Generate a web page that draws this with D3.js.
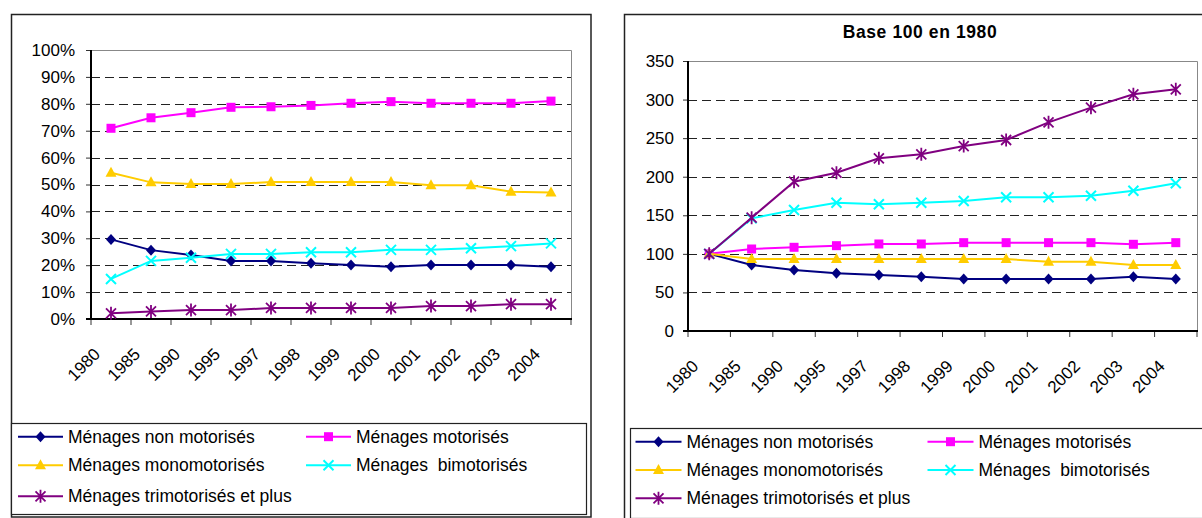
<!DOCTYPE html>
<html>
<head>
<meta charset="utf-8">
<script src="https://d3js.org/d3.v7.min.js"></script>
<style>
  body { margin: 0; background: #fff; }
  text { font-family: "Liberation Sans", Arial, sans-serif; fill: #000; }
</style>
</head>
<body>
<div id="chart"></div>
<script>
    // categories (years)
    var years = ["1980", "1985", "1990", "1995", "1997", "1998", "1999", "2000", "2001", "2002", "2003", "2004"];

    // left chart : share of households (%)
    var pctNonMotorises = [29.6, 25.6, 23.8, 21.6, 21.6, 20.7, 20.1, 19.4, 20.1, 20.1, 20.1, 19.4];
    var pctMotorises = [70.9, 74.8, 76.7, 78.7, 78.9, 79.4, 80.2, 80.8, 80.2, 80.2, 80.2, 81.0];
    var pctMonomotorises = [54.4, 50.8, 50.2, 50.2, 50.9, 50.9, 50.9, 50.9, 49.7, 49.7, 47.3, 47.0];
    var pctBimotorises = [14.9, 21.6, 22.8, 24.2, 24.2, 24.8, 24.8, 25.7, 25.7, 26.3, 27.1, 28.1];
    var pctTrimotorises = [2.1, 2.8, 3.3, 3.3, 4.1, 4.1, 4.1, 4.1, 4.8, 4.8, 5.5, 5.5];

    // right chart : base 100 in 1980
    var idxNonMotorises = [100, 85.6, 79.1, 74.8, 72.6, 70.4, 67.4, 67.4, 67.4, 67.4, 70.4, 67.4];
    var idxMotorises = [100, 106.3, 108.5, 110.6, 112.8, 112.8, 114.5, 114.5, 114.5, 114.5, 112.4, 114.5];
    var idxMonomotorises = [100, 93.3, 93.3, 93.3, 93.3, 93.3, 93.3, 93.3, 89.9, 89.9, 85.6, 85.6];
    var idxBimotorises = [100, 146, 156.9, 166.3, 164.2, 166.3, 168.5, 173.3, 173.3, 175.4, 181.9, 191.5];
    var idxTrimotorises = [100, 146.9, 193.6, 205.2, 223.9, 229, 239.8, 247.6, 270.5, 289.5, 306.8, 313.3];

    // tick labels
    var pctTicks = [0, 10, 20, 30, 40, 50, 60, 70, 80, 90, 100];
    var idxTicks = [0, 50, 100, 150, 200, 250, 300, 350];

    var seriesNames = ["Ménages non motorisés", "Ménages motorisés", "Ménages monomotorisés",
        "Ménages  bimotorisés", "Ménages trimotorisés et plus"];
    var seriesColors = ["#000080", "#ff00ff", "#ffcc00", "#00ffff", "#800080"];
    var seriesMarkers = ["diamond", "square", "triangle", "cross", "star"];

    var svg = d3.select("#chart")
        .append("svg")
        .attr("width", 1202)
        .attr("height", 518);

    // marker drawing
    function marker(g, type, color, cx, cy) {
        if (type == "diamond") {
            g.append("path").attr("d", "M" + cx + "," + (cy - 5.5) + "L" + (cx + 5) + "," + cy +
                    "L" + cx + "," + (cy + 5.5) + "L" + (cx - 5) + "," + cy + "Z")
                .attr("fill", color);
        } else if (type == "square") {
            g.append("rect").attr("x", cx - 4.5).attr("y", cy - 4.5)
                .attr("width", 9).attr("height", 9).attr("fill", color);
        } else if (type == "triangle") {
            g.append("path").attr("d", "M" + cx + "," + (cy - 6) + "L" + (cx + 5.5) + "," + (cy + 4) +
                    "L" + (cx - 5.5) + "," + (cy + 4) + "Z")
                .attr("fill", color);
        } else if (type == "cross") {
            g.append("path").attr("d", "M" + (cx - 5) + "," + (cy - 5) + "L" + (cx + 5) + "," + (cy + 5) +
                    "M" + (cx + 5) + "," + (cy - 5) + "L" + (cx - 5) + "," + (cy + 5))
                .attr("stroke", color).attr("stroke-width", 2).attr("fill", "none");
        } else {
            g.append("path").attr("d", "M" + (cx - 5) + "," + (cy - 5) + "L" + (cx + 5) + "," + (cy + 5) +
                    "M" + (cx + 5) + "," + (cy - 5) + "L" + (cx - 5) + "," + (cy + 5) +
                    "M" + cx + "," + (cy - 6.5) + "L" + cx + "," + (cy + 6.5))
                .attr("stroke", color).attr("stroke-width", 1.8).attr("fill", "none");
        }
    }

    function drawChart(cfg) {
        var g = svg.append("g");

        // outer frame
        g.append("rect")
            .attr("x", cfg.frame[0]).attr("y", cfg.frame[1])
            .attr("width", cfg.frame[2]).attr("height", cfg.frame[3])
            .attr("fill", "none").attr("stroke", "#222").attr("stroke-width", 1.5);

        if (cfg.title) {
            g.append("text")
                .attr("x", cfg.titleX).attr("y", 32)
                .attr("dy", "0.35em")
                .attr("text-anchor", "middle")
                .attr("font-size", "17.5px")
                .attr("font-weight", "bold")
                .style("letter-spacing", "0.6px")
                .text(cfg.title);
        }

        var x = d3.scaleBand()
            .domain(years)
            .range([cfg.left, cfg.right]);
        var y = d3.scaleLinear()
            .domain([0, cfg.max])
            .range([cfg.bottom, cfg.top]);

        // dashed gridlines
        g.selectAll(".grid")
            .data(cfg.ticks.filter(function(d) { return d > 0; }))
            .enter()
            .append("line")
            .attr("x1", cfg.left).attr("x2", cfg.right)
            .attr("y1", function(d) { return Math.round(y(d)) + 0.5; })
            .attr("y2", function(d) { return Math.round(y(d)) + 0.5; })
            .attr("stroke", "#222")
            .attr("stroke-dasharray", "9,5");

        // plot area border (top and right)
        g.append("path")
            .attr("d", "M" + cfg.left + "," + (Math.round(cfg.top) + 0.5) + "H" + (cfg.right + 0.5) + "V" + cfg.bottom)
            .attr("stroke", "#888").attr("fill", "none");

        // y axis
        var yAxis = g.append("g")
            .attr("transform", "translate(" + cfg.left + ",0)")
            .call(d3.axisLeft(y)
                .tickValues(cfg.ticks)
                .tickSize(5)
                .tickPadding(cfg.pad)
                .tickFormat(function(d) { return d + cfg.suffix; }));
        yAxis.select(".domain").remove();
        yAxis.selectAll(".tick line").attr("stroke", "#333");
        yAxis.selectAll("text")
            .attr("font-family", "Liberation Sans, Arial, sans-serif")
            .attr("font-size", "17px")
            .attr("fill", "#000");

        g.append("line")
            .attr("x1", cfg.left).attr("x2", cfg.left)
            .attr("y1", cfg.top).attr("y2", cfg.bottom + 1)
            .attr("stroke", "#000").attr("stroke-width", 2);

        // x axis : ticks between categories
        var bounds = years.map(function(d) { return x(d); }).concat([cfg.right]);
        g.selectAll(".xtick")
            .data(bounds)
            .enter()
            .append("line")
            .attr("x1", function(d) { return d; }).attr("x2", function(d) { return d; })
            .attr("y1", cfg.bottom).attr("y2", cfg.bottom + 6)
            .attr("stroke", "#333");
        g.append("line")
            .attr("x1", cfg.left - 5).attr("x2", cfg.right + 1)
            .attr("y1", cfg.bottom).attr("y2", cfg.bottom)
            .attr("stroke", "#000").attr("stroke-width", 2);

        g.selectAll(".xlabel")
            .data(years)
            .enter()
            .append("text")
            .attr("transform", function(d) {
                return "translate(" + (x(d) + x.bandwidth() / 2 - 14) + "," + (cfg.bottom + 32) + ") rotate(-45)";
            })
            .attr("text-anchor", "end")
            .attr("dy", "0.35em")
            .attr("font-size", "17px")
            .text(function(d) { return d; });

        // series
        var line = d3.line()
            .x(function(d, i) { return x(years[i]) + x.bandwidth() / 2; })
            .y(function(d) { return y(d); });

        cfg.series.forEach(function(s, k) {
            var sg = g.append("g");
            sg.append("path")
                .attr("d", line(s))
                .attr("fill", "none")
                .attr("stroke", seriesColors[k])
                .attr("stroke-width", 2);
            s.forEach(function(v, i) {
                marker(sg, seriesMarkers[k], seriesColors[k], x(years[i]) + x.bandwidth() / 2, y(v));
            });
        });

        // legend
        var L = cfg.legend;
        g.append("rect")
            .attr("x", L.box[0]).attr("y", L.box[1])
            .attr("width", L.box[2]).attr("height", L.box[3])
            .attr("fill", "#fff").attr("stroke", "#222").attr("stroke-width", 1.2);

        seriesNames.forEach(function(name, k) {
            var col = k % 2, row = Math.floor(k / 2);
            var lx = L.cols[col], ly = L.rows[row];
            var lg = g.append("g");
            lg.append("line")
                .attr("x1", lx).attr("x2", lx + L.len)
                .attr("y1", ly).attr("y2", ly)
                .attr("stroke", seriesColors[k]).attr("stroke-width", 2);
            marker(lg, seriesMarkers[k], seriesColors[k], lx + L.len / 2, ly);
            lg.append("text")
                .attr("x", lx + L.len + 5)
                .attr("y", ly)
                .attr("dy", "0.35em")
                .attr("font-size", "17.5px")
                .style("white-space", "pre")
                .attr("xml:space", "preserve")
                .text(name);
        });
    }

    drawChart({
        frame: [11.5, 14.5, 579.5, 502.5],
        left: 91, right: 571, top: 50, bottom: 319,
        max: 100, ticks: pctTicks, suffix: "%", pad: 11,
        series: [pctNonMotorises, pctMotorises, pctMonomotorises, pctBimotorises, pctTrimotorises],
        legend: { box: [11.5, 423.5, 575, 91], cols: [18, 306], rows: [436.7, 465.3, 496.3], len: 45 }
    });

    drawChart({
        frame: [624.5, 14.5, 620, 520],
        title: "Base 100 en 1980", titleX: 920,
        left: 688, right: 1197, top: 61, bottom: 331,
        max: 350, ticks: idxTicks, suffix: "", pad: 9,
        series: [idxNonMotorises, idxMotorises, idxMonomotorises, idxBimotorises, idxTrimotorises],
        legend: { box: [630.5, 428.5, 600, 90], cols: [635.5, 927.5], rows: [441.7, 470, 498.3], len: 46 }
    });
</script>
</body>
</html>
